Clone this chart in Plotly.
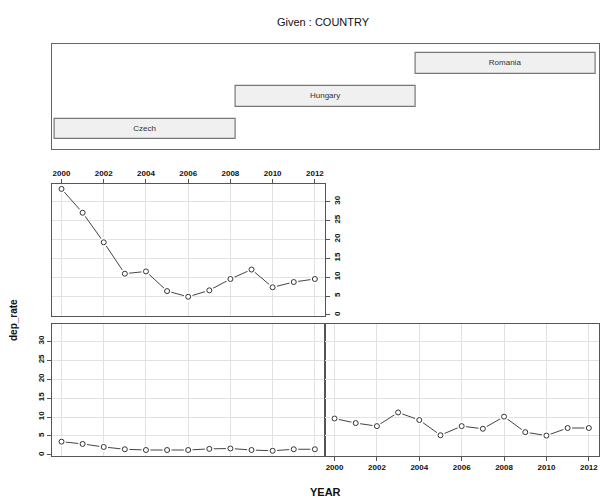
import plotly.graph_objects as go

years = [2000, 2001, 2002, 2003, 2004, 2005, 2006, 2007, 2008, 2009, 2010, 2011, 2012]
czech = [3.5, 2.9, 2.1, 1.5, 1.3, 1.3, 1.3, 1.6, 1.7, 1.3, 1.1, 1.5, 1.5]
hungary = [9.6, 8.4, 7.6, 11.2, 9.2, 5.2, 7.6, 6.9, 10.1, 6.0, 5.1, 7.1, 7.1]
romania = [33.3, 27.0, 19.2, 10.9, 11.5, 6.3, 4.8, 6.5, 9.5, 12.0, 7.3, 8.7, 9.5]

countries = ["Czech", "Hungary", "Romania"]
levels = [1, 2, 3]

x_ticks = [2000, 2002, 2004, 2006, 2008, 2010, 2012]
y_ticks = [0, 5, 10, 15, 20, 25, 30]

W, H = 600, 500
def px(x): return x / W
def py(y): return 1 - y / H

FONT = "Liberation Sans, Arial, sans-serif"
FRAME = "#555555"
GRID = "#e2e2e2"

fig = go.Figure()

panels = [(czech, "x", "y"), (hungary, "x2", "y2"), (romania, "x3", "y3")]
for series, xa, ya in panels:
    fig.add_trace(go.Scatter(x=years, y=series, mode="lines", xaxis=xa, yaxis=ya,
                             line=dict(color="#444444", width=1), hoverinfo="skip", showlegend=False))
    fig.add_trace(go.Scatter(x=years, y=series, mode="markers", xaxis=xa, yaxis=ya,
                             marker=dict(symbol="circle", size=9, color="white", line=dict(width=0)),
                             hoverinfo="skip", showlegend=False))
    fig.add_trace(go.Scatter(x=years, y=series, mode="markers", xaxis=xa, yaxis=ya,
                             marker=dict(symbol="circle-open", size=5, color="#333333", line=dict(width=1)),
                             showlegend=False))

fig.add_trace(go.Bar(y=levels, x=[1, 1, 1], base=[l - 0.5 for l in levels], orientation="h",
                     width=0.636, xaxis="x4", yaxis="y4", text=countries,
                     textposition="inside", insidetextanchor="middle", constraintext="none",
                     textfont=dict(family=FONT, size=8, color="#333333"),
                     marker=dict(color="#f0f0f0", line=dict(color="#777777", width=1.2)),
                     showlegend=False, hoverinfo="skip"))

xr = [1999.55, 2012.48]
yr = [-0.2, 34.6]
tickfont = dict(family=FONT, size=8, color="#111111", weight="bold")

common_x = dict(range=xr, tickvals=x_ticks, showgrid=True, gridcolor=GRID, gridwidth=1,
                zeroline=False, showline=True, linecolor=FRAME, linewidth=1, mirror=True,
                tickfont=tickfont, tickcolor=FRAME, ticklen=4)
common_y = dict(range=yr, tickvals=y_ticks, showgrid=True, gridcolor=GRID, gridwidth=1,
                zeroline=False, showline=True, linecolor=FRAME, linewidth=1, mirror=True,
                tickfont=tickfont, tickcolor=FRAME, ticklen=4, tickangle=-90)

dx_left = [px(52), px(325)]
dx_right = [px(325), px(599)]
dy_top = [py(315.7), py(184)]
dy_bot = [py(455.7), py(323.7)]

fig.update_layout(
    width=W, height=H, margin=dict(l=0, r=0, t=0, b=0),
    plot_bgcolor="white", paper_bgcolor="white", bargap=0,
    xaxis=dict(common_x, domain=dx_left, anchor="y", showticklabels=False, ticks=""),
    yaxis=dict(common_y, domain=dy_bot, anchor="x", side="left", ticks="outside"),
    xaxis2=dict(common_x, domain=dx_right, anchor="y2", side="bottom", ticks="outside"),
    yaxis2=dict(common_y, domain=dy_bot, anchor="x2", showticklabels=False, ticks=""),
    xaxis3=dict(common_x, domain=dx_left, anchor="y3", side="top", ticks="outside"),
    yaxis3=dict(common_y, domain=dy_top, anchor="x3", side="right", ticks="outside"),
    xaxis4=dict(domain=[px(51.7), px(599)], anchor="y4", range=[0.4817, 3.5183],
                showgrid=False, zeroline=False, showticklabels=False, ticks="",
                showline=True, linecolor="#666666", linewidth=1, mirror=True),
    yaxis4=dict(domain=[py(149), py(44)], anchor="x4", range=[0.3825, 3.608],
                showgrid=False, zeroline=False, showticklabels=False, ticks="",
                showline=True, linecolor="#666666", linewidth=1, mirror=True),
    annotations=[
        dict(text="Given : COUNTRY", x=px(323), y=py(22), xref="paper", yref="paper",
             xanchor="center", yanchor="middle",
             showarrow=False, font=dict(family=FONT, size=11, color="#111111")),
        dict(text="dep_rate", x=px(13), y=py(320), xref="paper", yref="paper",
             xanchor="center", yanchor="middle",
             showarrow=False, textangle=-90, font=dict(family=FONT, size=10, color="#111111", weight="bold")),
        dict(text="YEAR", x=px(325), y=py(492), xref="paper", yref="paper",
             xanchor="center", yanchor="middle",
             showarrow=False, font=dict(family=FONT, size=11, color="#111111", weight="bold")),
    ],
)

fig.write_html("out.html", config={"displayModeBar": False},
               post_script="document.body.style.margin='0px';document.body.style.overflow='hidden';")
